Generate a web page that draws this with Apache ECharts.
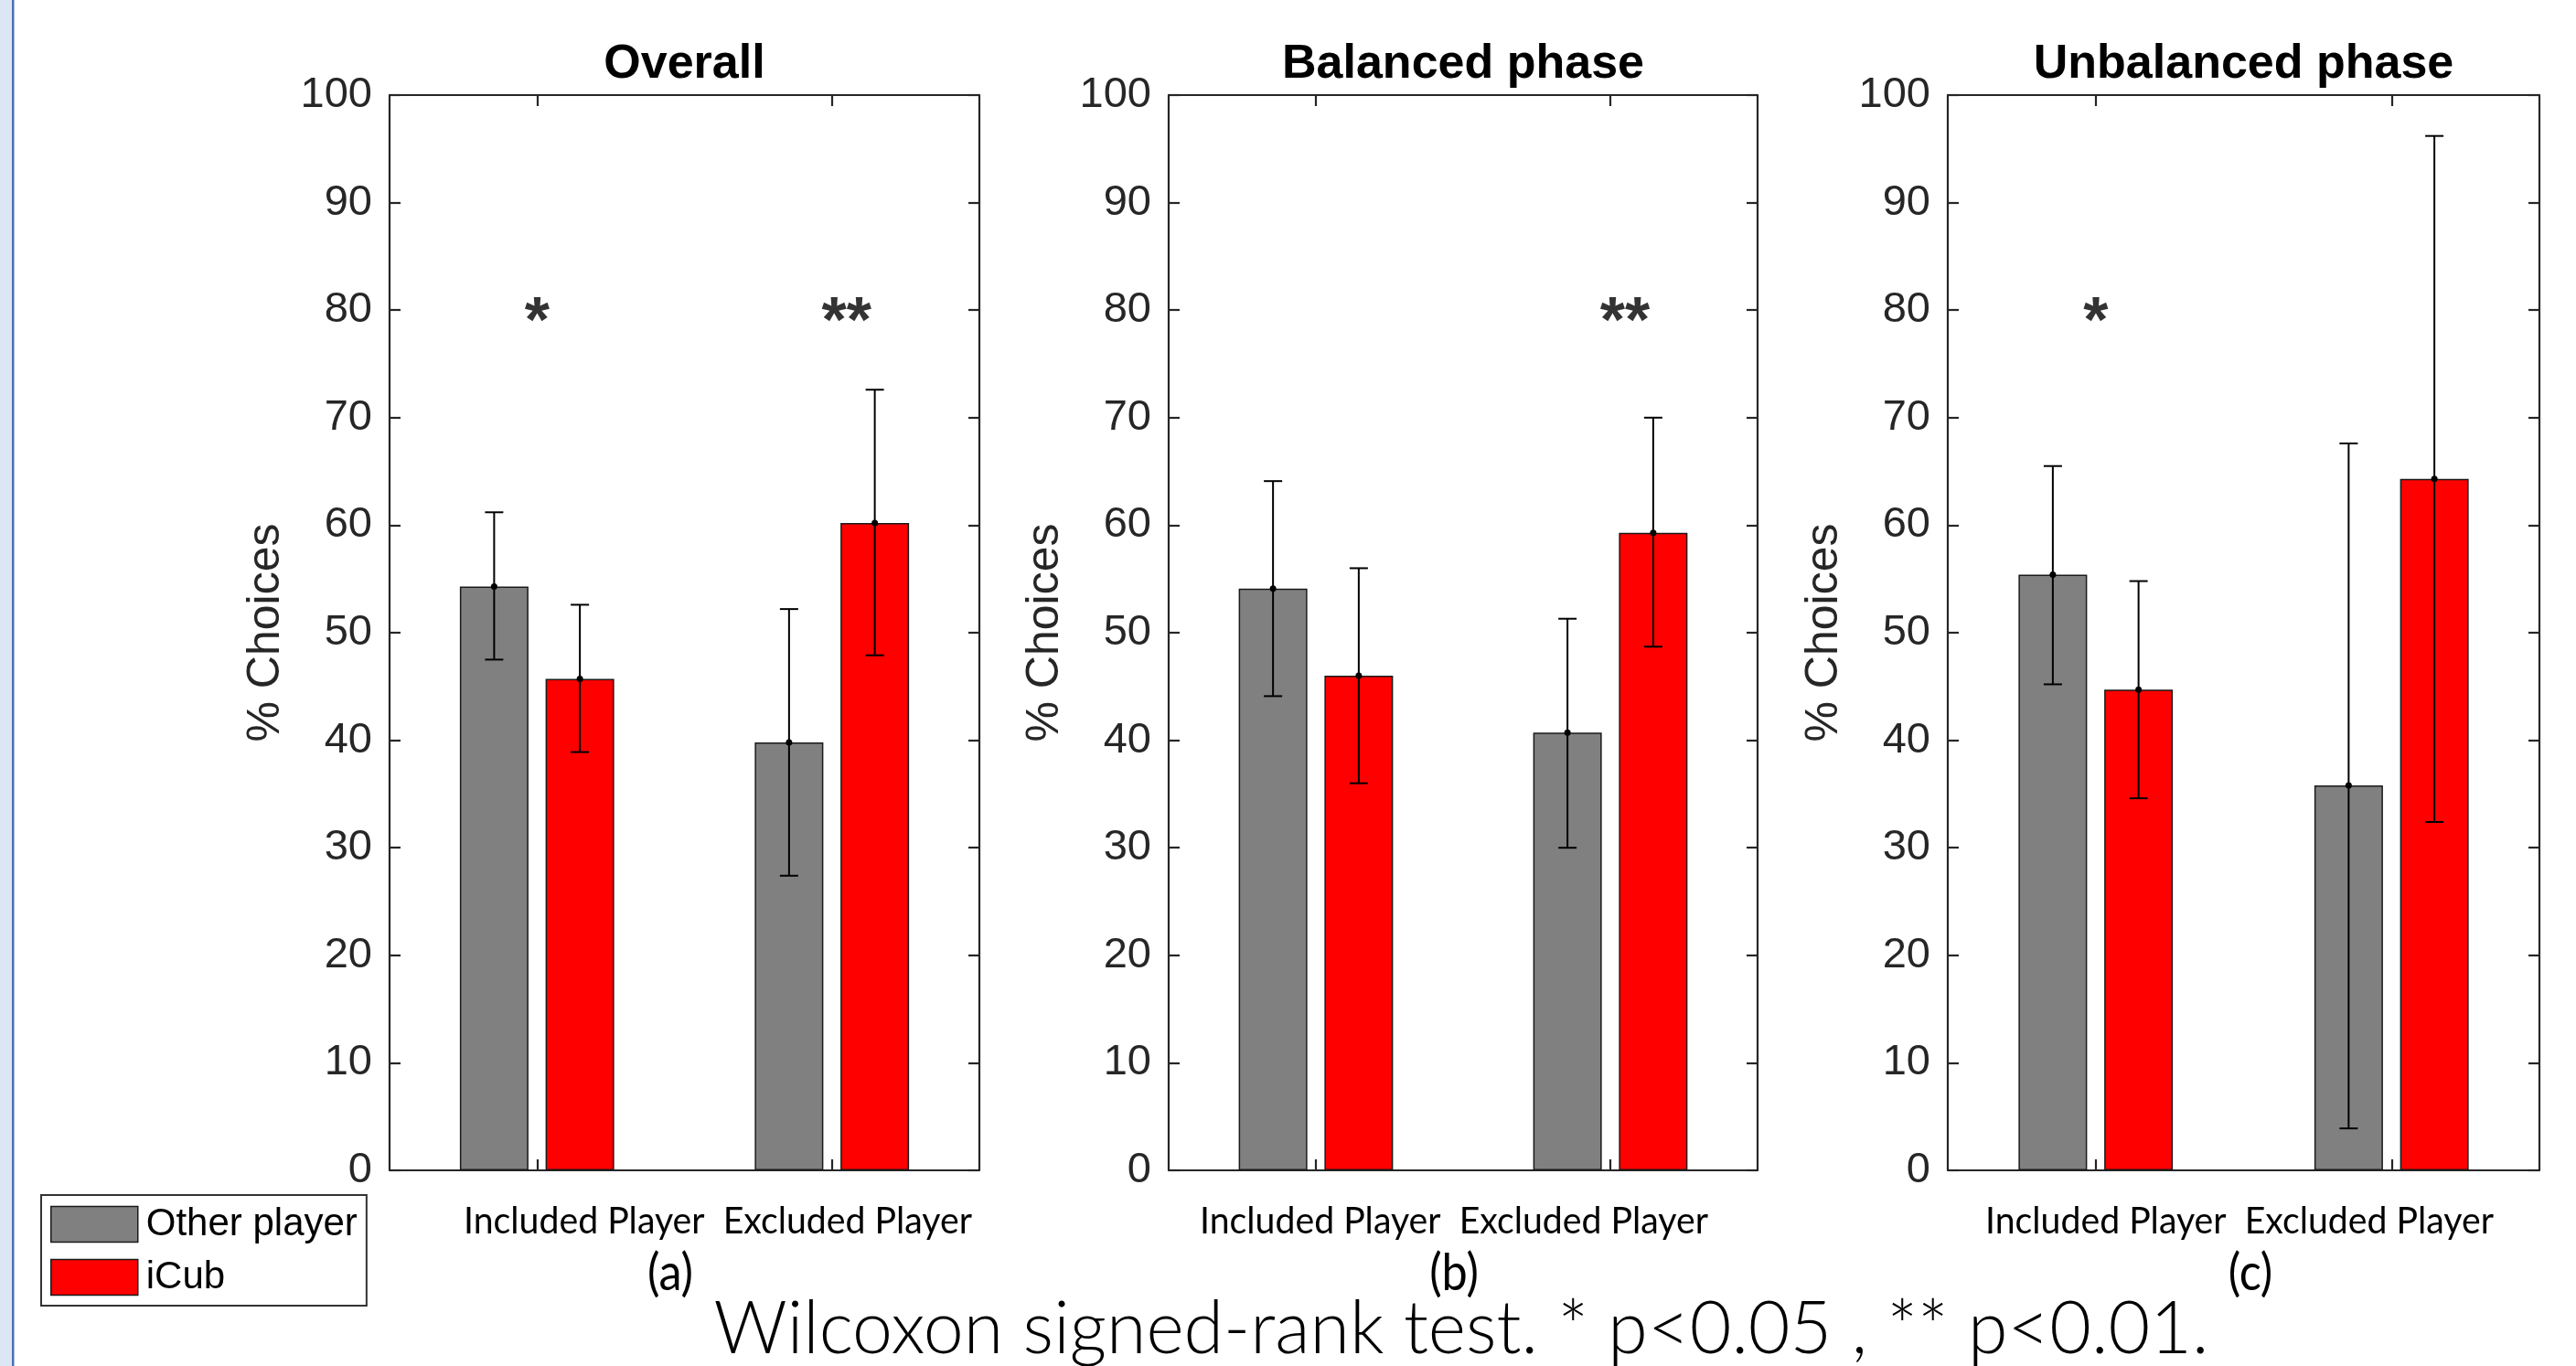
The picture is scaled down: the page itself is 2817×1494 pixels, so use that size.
<!DOCTYPE html>
<html>
<head>
<meta charset="utf-8">
<script src="https://cdn.jsdelivr.net/npm/echarts@6/dist/echarts.min.js"></script>
<style>
html, body { margin: 0; padding: 0; background: #ffffff; }
#chart { width: 2817px; height: 1494px; }
</style>
</head>
<body>
<div id="chart"></div>
<script>
// ---------------- data ----------------
const categories = ['Included Player', 'Excluded Player'];
const panelTitles = ['Overall', 'Balanced phase', 'Unbalanced phase'];
const panelTags = ['(a)', '(b)', '(c)'];
const seriesNames = ['Other player', 'iCub'];

// % choices, [Included, Excluded] for each panel (Overall, Balanced, Unbalanced)
const otherMean = [[54.3, 39.8], [54.1, 40.7], [55.4, 35.8]];
const otherLow  = [[47.5, 27.4], [44.1, 30.0], [45.2, 3.9]];
const otherHigh = [[61.2, 52.2], [64.1, 51.3], [65.5, 67.6]];
const icubMean  = [[45.7, 60.2], [46.0, 59.3], [44.7, 64.3]];
const icubLow   = [[38.9, 47.9], [36.0, 48.7], [34.6, 32.4]];
const icubHigh  = [[52.6, 72.6], [56.0, 70.0], [54.8, 96.2]];

const significance = [['*', '**'], ['', '**'], ['*', '']];
const significanceLevel = 80;

const yMin = 0, yMax = 100, yInterval = 10;
const yAxisName = '% Choices';
const footnote = 'Wilcoxon signed-rank test. * p<0.05 , ** p<0.01.';

// ---------------- layout / style ----------------
const W = 2817, H = 1494;
const panelGrids = [
  { left: 426, width: 645 },
  { left: 1278, width: 644 },
  { left: 2130, width: 647 }
];
const gridTop = 104, gridHeight = 1176;
const barWidth = 75, barGapRatio = 0.25;
const barOffset = (barWidth + barWidth * barGapRatio) / 2;
const colors = ['#808080', '#ff0000'];
const axisColor = '#262626';
const arial = '"Liberation Sans", Arial, Helvetica, sans-serif';
const calibriLike = 'Lato, "Open Sans", sans-serif';
const catTextCenters = [785, 1590, 2449];
const tagCenters = [733, 1590, 2461];
const sigFontSize = 70;

const measureCtx = document.createElement('canvas').getContext('2d');
function fitScale(text, size, family, target, weight) {
  measureCtx.font = (weight || 'normal') + ' ' + size + 'px ' + family;
  return target / measureCtx.measureText(text).width;
}

const chart = echarts.init(document.getElementById('chart'), null, { renderer: 'canvas', width: W, height: H });

const grid = [], xAxis = [], yAxis = [], series = [], title = [], graphic = [];

// left page border
graphic.push({ type: 'rect', shape: { x: 0, y: 0, width: 13, height: H }, style: { fill: '#dce6f4' }, silent: true });
graphic.push({ type: 'rect', shape: { x: 13, y: 0, width: 2.5, height: H }, style: { fill: '#4a72b4' }, silent: true });

panelTitles.forEach((pt, i) => {
  const g = panelGrids[i];
  grid.push({ left: g.left, top: gridTop, width: g.width, height: gridHeight, containLabel: false });

  const lineStyle = { color: axisColor, width: 2.2 };
  xAxis.push({
    type: 'category', gridIndex: i, data: categories, position: 'bottom',
    axisLine: { show: true, lineStyle },
    axisTick: { show: true, inside: true, alignWithLabel: true, length: 12, lineStyle },
    axisLabel: { show: false }, splitLine: { show: false }
  });
  xAxis.push({
    type: 'category', gridIndex: i, data: categories, position: 'top',
    axisLine: { show: true, onZero: false, lineStyle },
    axisTick: { show: true, inside: true, alignWithLabel: true, length: 12, lineStyle },
    axisLabel: { show: false }, splitLine: { show: false }
  });
  yAxis.push({
    type: 'value', gridIndex: i, min: yMin, max: yMax, interval: yInterval, position: 'left',
    name: yAxisName, nameLocation: 'middle', nameGap: 110, nameRotate: 90,
    nameTextStyle: { fontSize: 50, fontFamily: arial, color: axisColor },
    axisLine: { show: true, lineStyle },
    axisTick: { show: true, inside: true, length: 12, lineStyle },
    axisLabel: { show: true, margin: 19, fontSize: 47, fontFamily: arial, color: axisColor },
    splitLine: { show: false }
  });
  yAxis.push({
    type: 'value', gridIndex: i, min: yMin, max: yMax, interval: yInterval, position: 'right',
    axisLine: { show: true, lineStyle },
    axisTick: { show: true, inside: true, length: 12, lineStyle },
    axisLabel: { show: false }, splitLine: { show: false }
  });

  const xb = 2 * i, yl = 2 * i;
  const means = [otherMean[i], icubMean[i]];
  const lows = [otherLow[i], icubLow[i]];
  const highs = [otherHigh[i], icubHigh[i]];

  seriesNames.forEach((name, s) => {
    series.push({
      type: 'bar', name, xAxisIndex: xb, yAxisIndex: yl,
      data: means[s], barWidth, barGap: (barGapRatio * 100) + '%',
      itemStyle: { color: colors[s], borderColor: '#1a1a1a', borderWidth: 1.5 },
      z: 2, animation: false
    });
  });

  seriesNames.forEach((name, s) => {
    const sign = s === 0 ? -1 : 1;
    series.push({
      type: 'custom', name: name + ' error', xAxisIndex: xb, yAxisIndex: yl, z: 3,
      animation: false, silent: true,
      data: categories.map((c, j) => [j, lows[s][j], highs[s][j], means[s][j]]),
      encode: { x: 0, y: [1, 2, 3] },
      renderItem: (params, api) => {
        const cat = api.value(0);
        const lo = api.coord([cat, api.value(1)]);
        const hi = api.coord([cat, api.value(2)]);
        const mid = api.coord([cat, api.value(3)]);
        const x = mid[0] + sign * barOffset;
        const st = { stroke: '#000', lineWidth: 2 };
        return {
          type: 'group', children: [
            { type: 'line', shape: { x1: x, y1: hi[1], x2: x, y2: lo[1] }, style: st },
            { type: 'line', shape: { x1: x - 10, y1: hi[1], x2: x + 10, y2: hi[1] }, style: st },
            { type: 'line', shape: { x1: x - 10, y1: lo[1], x2: x + 10, y2: lo[1] }, style: st },
            { type: 'circle', shape: { cx: x, cy: mid[1], r: 3.5 }, style: { fill: '#000' } }
          ]
        };
      }
    });
  });

  const sigData = [];
  categories.forEach((c, j) => {
    const mark = significance[i][j];
    if (mark) {
      sigData.push({
        value: [j, significanceLevel], mark,
        label: {
          show: true, position: 'inside', formatter: mark,
          fontSize: sigFontSize, fontWeight: 'bold', fontFamily: arial, color: '#000',
          offset: [mark.length > 1 ? 16 : 0, 16]
        }
      });
    }
  });
  series.push({
    type: 'scatter', name: 'significance', xAxisIndex: xb, yAxisIndex: yl, z: 4,
    symbolSize: 0, silent: true, animation: false, data: sigData,
    label: { show: true, position: 'inside', fontSize: sigFontSize, fontWeight: 'bold', fontFamily: arial, color: '#000' }
  });

  title.push({
    text: pt, left: g.left + g.width / 2, top: 45, textAlign: 'center', padding: 0,
    textStyle: { fontSize: 52, fontWeight: 'bold', fontFamily: arial, color: '#000' }
  });

  const catText = categories.join('  ');
  const catSize = 41;
  graphic.push({
    type: 'text', x: catTextCenters[i], y: 1336, silent: true,
    scaleX: fitScale(catText, catSize, calibriLike, 556),
    style: { text: catText, fontSize: catSize, fontFamily: calibriLike, fill: '#000',
      align: 'center', verticalAlign: 'middle', textAlign: 'center', textVerticalAlign: 'middle' }
  });
  graphic.push({
    type: 'text', x: tagCenters[i], y: 1393, silent: true,
    scaleX: 0.9,
    style: { text: panelTags[i], fontSize: 56, fontFamily: calibriLike, fill: '#000',
      align: 'center', verticalAlign: 'middle', textAlign: 'center', textVerticalAlign: 'middle' }
  });
});

const footSize = 80;
graphic.push({
  type: 'text', x: 1598, y: 1454, silent: true,
  scaleX: fitScale(footnote, footSize, calibriLike, 1635, 300),
  style: { text: footnote, fontSize: footSize, fontWeight: 300, fontFamily: calibriLike, fill: '#000',
    align: 'center', verticalAlign: 'middle', textAlign: 'center', textVerticalAlign: 'middle' }
});

chart.setOption({
  backgroundColor: '#ffffff',
  animation: false,
  title, grid, xAxis, yAxis, series, graphic,
  legend: {
    left: 45, top: 1307, orient: 'vertical',
    padding: [11, 10, 10, 10], itemGap: 16, itemWidth: 95, itemHeight: 39,
    icon: 'rect', backgroundColor: '#ffffff', borderColor: '#333333', borderWidth: 2,
    textStyle: { fontSize: 42, fontFamily: arial, color: '#000', lineHeight: 39, padding: [0, 0, 0, 4] },
    data: [
      { name: 'Other player', itemStyle: { color: colors[0], borderColor: '#1a1a1a', borderWidth: 1.5 } },
      { name: 'iCub', itemStyle: { color: colors[1], borderColor: '#1a1a1a', borderWidth: 1.5 } }
    ]
  }
});
</script>
</body>
</html>
